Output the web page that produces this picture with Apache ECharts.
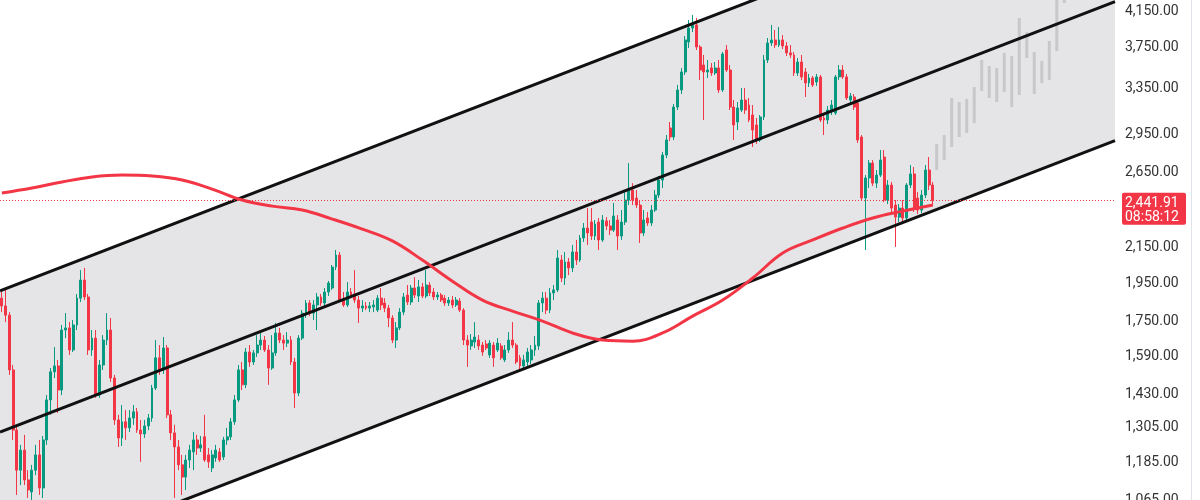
<!DOCTYPE html>
<html><head><meta charset="utf-8">
<script src="https://cdn.jsdelivr.net/npm/echarts@6/dist/echarts.min.js"></script>
<style>html,body{margin:0;padding:0;background:#fff}#c{width:1200px;height:500px}</style>
</head><body><div id="c"></div>
<script>
// ---- data ----
const slotCount = 297;           // candle slots incl. projection area
// [open, close, low, high]
const candles = [
[1862,1822,1791,1894],[1822,1776,1742,1905],[1776,1525,1504,1791],[1525,1290,1255,1546],[1290,1154,1077,1309],
[1154,1220,1107,1238],[1220,1123,1107,1273],[1123,1092,1068,1154],[1086,1154,1062,1171],[1154,1204,1138,1238],
[1204,1098,1077,1255],[1098,1255,1068,1269],[1255,1403,1238,1422],[1403,1517,1346,1533],[1517,1542,1491,1625],
[1542,1442,1353,1568],[1442,1704,1422,1728],[1704,1714,1666,1786],[1714,1612,1590,1742],[1612,1728,1603,1752],
[1728,1862,1704,1883],[1862,1958,1842,2013],[1958,1868,1852,2025],[1868,1612,1590,1884],[1612,1666,1586,1704],
[1666,1422,1411,1704],[1422,1546,1411,1568],[1546,1657,1525,1680],[1657,1704,1634,1786],[1704,1491,1475,1762],
[1491,1327,1309,1504],[1327,1262,1231,1346],[1262,1320,1234,1383],[1320,1298,1255,1364],[1298,1334,1283,1364],
[1334,1357,1309,1383],[1357,1290,1280,1372],[1290,1276,1181,1327],[1276,1305,1262,1327],[1305,1334,1290,1349],
[1334,1450,1320,1463],[1450,1577,1442,1657],[1577,1525,1504,1634],[1525,1621,1508,1671],[1621,1346,1334,1634],
[1346,1280,1255,1364],[1280,1231,1068,1309],[1231,1171,1154,1255],[1171,1132,1077,1204],[1132,1187,1092,1204],
[1187,1220,1161,1238],[1214,1255,1154,1283],[1255,1227,1204,1273],[1227,1238,1214,1269],[1266,1187,1181,1346],
[1204,1181,1161,1227],[1161,1204,1148,1220],[1194,1220,1181,1238],[1214,1187,1181,1227],[1197,1255,1187,1266],
[1255,1266,1238,1298],[1266,1320,1255,1334],[1320,1403,1309,1422],[1403,1525,1395,1546],[1525,1463,1442,1559],
[1463,1603,1450,1621],[1603,1559,1538,1634],[1559,1599,1546,1612],[1599,1634,1581,1680],[1634,1657,1612,1694],
[1657,1612,1603,1676],[1612,1533,1463,1634],[1533,1599,1525,1680],[1599,1690,1586,1738],[1690,1657,1643,1714],
[1657,1643,1612,1680],[1643,1657,1625,1694],[1657,1559,1546,1676],[1559,1430,1372,1577],[1430,1666,1418,1680],
[1666,1786,1657,1801],[1786,1837,1762,1852],[1837,1786,1771,1852],[1786,1827,1752,1852],[1827,1868,1704,1889],
[1868,1837,1822,1884],[1837,1894,1822,1915],[1894,1942,1873,1953],[1915,2030,1905,2042],[2030,2099,2013,2129],
[2099,1852,1842,2117],[1852,1827,1817,1894],[1827,1894,1817,1947],[1894,1873,1862,1915],[1884,1852,1837,2013],
[1852,1811,1738,1873],[1811,1822,1791,1852],[1822,1811,1801,1842],[1811,1822,1791,1842],[1817,1827,1791,1852],
[1801,1862,1791,1878],[1862,1827,1801,1915],[1837,1811,1791,1862],[1811,1762,1718,1827],[1762,1657,1643,1776],
[1657,1714,1621,1742],[1714,1791,1704,1811],[1791,1868,1776,1889],[1878,1842,1827,1931],[1842,1915,1827,1931],
[1915,1878,1862,1974],[1873,1921,1842,1958],[1921,1873,1862,1942],[1873,1931,1862,2013],[1931,1889,1873,1947],
[1894,1868,1852,1915],[1868,1878,1852,1894],[1878,1852,1842,1889],[1862,1837,1822,1878],[1837,1852,1822,1868],
[1852,1827,1811,1873],[1827,1852,1817,1868],[1847,1801,1791,1862],[1801,1657,1634,1811],[1657,1634,1538,1680],
[1630,1657,1612,1685],[1648,1671,1621,1742],[1657,1630,1612,1680],[1634,1603,1586,1648],[1639,1621,1612,1657],
[1590,1643,1577,1657],[1634,1577,1538,1648],[1612,1643,1603,1666],[1630,1577,1568,1643],[1568,1612,1559,1634],
[1612,1657,1599,1694],[1657,1634,1621,1742],[1634,1559,1550,1643],[1577,1542,1525,1590],[1542,1568,1525,1590],
[1559,1603,1542,1621],[1568,1612,1550,1634],[1612,1634,1586,1676],[1630,1837,1612,1852],[1837,1862,1791,1894],
[1862,1801,1781,1894],[1801,1889,1786,1915],[1889,1905,1852,1931],[1905,2082,1894,2129],[2070,1969,1947,2099],
[1969,2059,1931,2117],[2059,2025,1985,2082],[2025,2117,2002,2159],[2117,2070,2042,2189],[2070,2201,2059,2219],
[2201,2263,2177,2295],[2263,2232,2159,2392],[2301,2213,2189,2392],[2213,2288,2189,2314],[2301,2189,2129,2327],
[2189,2314,2177,2346],[2308,2276,2250,2333],[2276,2250,2219,2314],[2250,2340,2238,2426],[2314,2213,2129,2346],
[2213,2301,2189,2379],[2301,2446,2282,2501],[2446,2515,2412,2711],[2515,2446,2412,2564],[2460,2412,2392,2515],
[2412,2232,2171,2446],[2232,2314,2213,2379],[2327,2295,2276,2366],[2295,2379,2276,2412],[2379,2480,2366,2515],
[2480,2586,2460,2615],[2586,2772,2529,2795],[2772,2891,2749,2931],[2989,2915,2883,3039],[2915,3168,2891,3195],
[3168,3322,3142,3369],[3322,3493,3285,3531],[3493,3818,3464,3860],[3797,3947,3734,4036],[3947,3981,3903,4093],
[3981,3744,3713,4059],[3744,3512,3416,3765],[3561,3493,3056,3662],[3493,3512,3435,3611],[3532,3483,3454,3581],
[3483,3532,3464,3591],[3532,3322,3295,3611],[3322,3672,3304,3693],[3713,3512,3493,3765],[3512,3168,3142,3561],
[3168,3014,2891,3231],[3039,3160,2972,3213],[3142,3231,3125,3341],[3231,3142,3108,3341],[3186,3056,3039,3249],
[3099,2972,2835,3186],[3014,2891,2859,3073],[2891,3082,2875,3099],[3082,3611,3056,3662],[3611,3786,3581,3839],
[3786,3818,3755,3981],[3818,3765,3734,3925],[3765,3818,3744,3959],[3818,3755,3723,3871],[3755,3683,3652,3797],
[3683,3662,3631,3765],[3662,3483,3454,3693],[3483,3591,3454,3631],[3591,3445,3416,3662],[3493,3388,3258,3532],
[3388,3435,3350,3474],[3435,3369,3350,3454],[3397,3445,3360,3474],[3445,3056,3039,3464],[3073,3056,2931,3116],
[3056,3142,3022,3177],[3142,3186,3099,3231],[3116,3445,3099,3464],[3445,3512,3416,3561],[3512,3445,3426,3561],
[3445,3249,3231,3474],[3231,3267,3204,3295],[3258,3168,3142,3285],[3204,2891,2867,3231],[2915,2460,2446,2931],
[2460,2601,2129,2622],[2601,2711,2529,2734],[2711,2564,2543,2734],[2564,2622,2529,2659],[2622,2734,2608,2811],
[2757,2446,2432,2811],[2446,2550,2419,2586],[2550,2392,2366,2572],[2412,2333,2147,2446],[2333,2392,2301,2419],
[2392,2327,2288,2446],[2327,2550,2308,2564],[2550,2630,2529,2696],[2630,2392,2366,2681],[2460,2379,2353,2501],
[2379,2480,2359,2515],[2480,2659,2460,2696],[2659,2550,2515,2757],[2550,2441.91,2412,2572]
];
const lastPrice = 2441.91;
const countdown = '08:58:12';
// moving average read at sample candles: [candle index, value]
const maPoints = [[0,2494],[8,2529],[16,2572],[24,2608],[32,2622],[40,2615],[48,2586],[56,2522],[64,2446],
[72,2405],[80,2379],[88,2320],[96,2256],[104,2183],[112,2070],[120,1952],[128,1852],[136,1796],[144,1747],
[152,1690],[160,1657],[168,1652],[176,1690],[184,1771],[192,1852],[200,1969],[208,2111],[216,2189],
[224,2263],[232,2327],[240,2372],[248,2412]];
// projected (ghost) bars: [slot index, low, high]
const ghostBars = [[249,2659,2859],[251,2734,2931],[253,2835,3249],[255,2915,3213],[257,2947,3240],
[259,3031,3350],[261,3313,3611],[263,3249,3551],[265,3213,3531],[267,3304,3682],[269,3168,3652],
[271,3276,4059],[273,3631,3903],[275,3285,3693],[277,3388,3601],[279,3416,3807],[281,3703,4394],[283,4232,4500]];
// channel lines: [slot position, price] at both ends
const channelUpper = [[-0.5,1900],[296.5,6288]];
const channelMiddle = [[-0.5,1283],[296.5,4248]];
const channelLower = [[-0.5,871.5],[296.5,2886]];
const yTicks = [4150,3750,3350,2950,2650,2150,1950,1750,1590,1430,1305,1185,1065];
const yMin = 1062, yMax = 4267;

// ---- chart ----
const UP = '#089981', DOWN = '#f23645';
const categories = Array.from({length: slotCount}, (_, i) => String(i));
const fmt = v => Number(v).toLocaleString('en-US', {minimumFractionDigits: 2, maximumFractionDigits: 2});
const FONT = '14px Roboto, "Liberation Sans", sans-serif';
const chart = echarts.init(document.getElementById('c'), null, {renderer: 'canvas'});
const lineStyle = {color: '#111', width: 3};
chart.setOption({
  animation: false,
  grid: {left: 0, right: 85, top: 0, bottom: 0},
  xAxis: [
    {type: 'category', data: categories, boundaryGap: true, show: false},
    {type: 'value', min: -0.5, max: slotCount - 0.5, show: false}
  ],
  yAxis: {type: 'log', min: yMin, max: yMax, show: false, splitLine: {show: false}},
  graphic: [{type: 'line', shape: {x1: 1191.5, y1: 0, x2: 1191.5, y2: 500}, style: {stroke: '#e0e3eb', lineWidth: 1}, silent: true}],
  series: [
    {type: 'custom', xAxisIndex: 1, data: [[0, 0]], silent: true, z: 0,
      renderItem: (params, api) => ({
        type: 'polygon',
        shape: {points: [api.coord(channelUpper[0]), api.coord(channelUpper[1]), api.coord(channelLower[1]), api.coord(channelLower[0])]},
        style: {fill: '#e5e5e8'}
      })},
    {type: 'candlestick', xAxisIndex: 0, data: candles, barWidth: 2.4, z: 2,
      itemStyle: {color: UP, color0: DOWN, borderColor: UP, borderColor0: DOWN, borderWidth: 1},
      markLine: {silent: true, symbol: ['none', 'none'], label: {show: false},
        lineStyle: {color: DOWN, type: [1, 2], width: 1}, data: [{yAxis: lastPrice}]}},
    {type: 'custom', xAxisIndex: 0, data: ghostBars, silent: true, z: 2,
      encode: {x: 0, y: [1, 2]},
      renderItem: (params, api) => {
        const a = api.coord([api.value(0), api.value(2)]);
        const b = api.coord([api.value(0), api.value(1)]);
        return {type: 'rect', shape: {x: a[0] - 1.5, y: a[1], width: 3, height: b[1] - a[1]}, style: {fill: '#c8c8ca'}};
      }},
    {type: 'line', xAxisIndex: 1, data: channelUpper, symbol: 'none', lineStyle, z: 3, silent: true},
    {type: 'line', xAxisIndex: 1, data: channelMiddle, symbol: 'none', lineStyle, z: 3, silent: true},
    {type: 'line', xAxisIndex: 1, data: channelLower, symbol: 'none', lineStyle, z: 3, silent: true},
    {type: 'line', xAxisIndex: 0, data: maPoints, symbol: 'none', smooth: 0.4, z: 4, silent: true,
      lineStyle: {color: DOWN, width: 3}},
    {type: 'custom', xAxisIndex: 1, data: yTicks.map(v => [slotCount - 0.5, v]), silent: true, z: 5,
      renderItem: (params, api) => {
        const p = api.coord([api.value(0), api.value(1)]);
        return {type: 'text', x: p[0] + 10, y: p[1] + 1.5,
          style: {text: fmt(api.value(1)), fill: '#333', font: FONT, align: 'left', verticalAlign: 'middle'}};
      }},
    {type: 'custom', xAxisIndex: 1, data: [[slotCount - 0.5, lastPrice]], silent: true, z: 6,
      renderItem: (params, api) => {
        const p = api.coord([api.value(0), api.value(1)]);
        return {type: 'group', children: [
          {type: 'rect', shape: {x: p[0] + 7, y: p[1] - 8, width: 64, height: 32, r: 2}, style: {fill: DOWN}},
          {type: 'text', x: p[0] + 10, y: p[1] + 2.5, style: {text: fmt(api.value(1)), fill: '#fff', font: FONT, align: 'left', verticalAlign: 'middle'}},
          {type: 'text', x: p[0] + 10, y: p[1] + 17, style: {text: countdown, fill: '#fff', font: FONT, align: 'left', verticalAlign: 'middle'}}
        ]};
      }}
  ]
});
</script></body></html>
